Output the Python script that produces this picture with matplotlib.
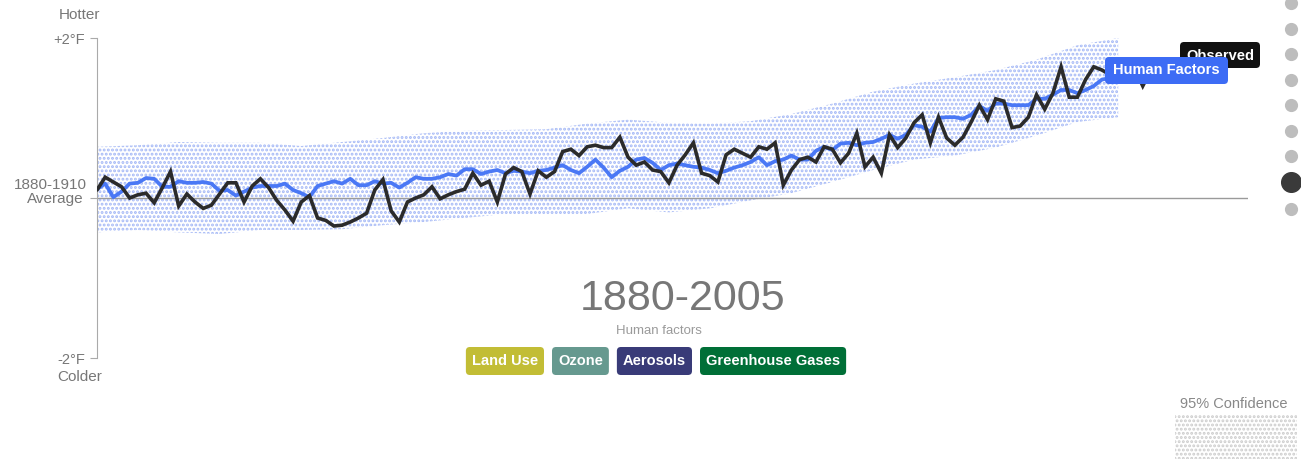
import numpy as np
import matplotlib.pyplot as plt
from matplotlib.patches import FancyBboxPatch, Rectangle

plt.rcParams['font.family'] = ['Liberation Sans', 'DejaVu Sans']
plt.rcParams['hatch.linewidth'] = 1.4

# Observed temperature vs 1880-1910 average (deg F)
years_obs = np.arange(1880, 2015)
observed = [
    0.10, 0.26, 0.20, 0.14, 0.00, 0.04, 0.06, -0.06, 0.13, 0.33,
    -0.10, 0.05, -0.05, -0.13, -0.09, 0.05, 0.19, 0.19, -0.05, 0.15,
    0.24, 0.13, -0.03, -0.15, -0.29, -0.05, 0.03, -0.25, -0.28, -0.35,
    -0.34, -0.30, -0.25, -0.19, 0.10, 0.23, -0.16, -0.30, -0.05, 0.00,
    0.04, 0.14, -0.01, 0.04, 0.08, 0.11, 0.31, 0.16, 0.21, -0.05,
    0.30, 0.38, 0.33, 0.05, 0.34, 0.26, 0.33, 0.58, 0.61, 0.53,
    0.64, 0.66, 0.63, 0.63, 0.76, 0.51, 0.41, 0.45, 0.35, 0.33,
    0.19, 0.41, 0.54, 0.69, 0.31, 0.28, 0.20, 0.54, 0.61, 0.56,
    0.51, 0.64, 0.61, 0.69, 0.16, 0.35, 0.48, 0.51, 0.45, 0.64,
    0.61, 0.44, 0.56, 0.81, 0.39, 0.51, 0.31, 0.79, 0.63, 0.75,
    0.94, 1.04, 0.69, 1.01, 0.75, 0.66, 0.76, 0.95, 1.16, 0.98,
    1.24, 1.21, 0.88, 0.90, 1.01, 1.29, 1.11, 1.31, 1.64, 1.26,
    1.26, 1.48, 1.64, 1.60, 1.54, 1.66, 1.58, 1.62, 1.40, 1.60,
    1.67, 1.56, 1.60, 1.64, 1.76,
]

# Modelled response to human factors
years_hf = np.arange(1880, 2006)
human = [
    0.11, 0.18, 0.01, 0.08, 0.18, 0.19, 0.25, 0.24, 0.14, 0.14,
    0.21, 0.19, 0.19, 0.20, 0.18, 0.09, 0.10, 0.03, 0.08, 0.13,
    0.15, 0.15, 0.15, 0.18, 0.10, 0.06, 0.01, 0.15, 0.18, 0.21,
    0.18, 0.24, 0.16, 0.16, 0.21, 0.18, 0.19, 0.13, 0.19, 0.26,
    0.24, 0.24, 0.26, 0.30, 0.28, 0.36, 0.36, 0.30, 0.33, 0.35,
    0.31, 0.34, 0.33, 0.31, 0.34, 0.35, 0.38, 0.41, 0.35, 0.31,
    0.39, 0.48, 0.38, 0.26, 0.34, 0.39, 0.48, 0.50, 0.44, 0.35,
    0.41, 0.43, 0.41, 0.39, 0.38, 0.35, 0.31, 0.34, 0.38, 0.41,
    0.45, 0.51, 0.41, 0.46, 0.48, 0.53, 0.48, 0.48, 0.59, 0.64,
    0.60, 0.68, 0.69, 0.66, 0.69, 0.70, 0.74, 0.79, 0.74, 0.79,
    0.91, 0.89, 0.83, 1.00, 1.01, 1.01, 0.99, 1.04, 1.15, 1.09,
    1.18, 1.18, 1.16, 1.16, 1.16, 1.24, 1.24, 1.29, 1.35, 1.35,
    1.31, 1.35, 1.40, 1.48, 1.50, 1.51,
]

# 95% confidence band of the human factors model
band_years = np.arange(1880, 2006, 5)
band_upper = [0.64, 0.66, 0.70, 0.69, 0.69, 0.65, 0.70, 0.75, 0.81, 0.84,
              0.85, 0.86, 0.93, 0.98, 0.94, 0.93, 0.96, 1.05, 1.18, 1.33,
              1.43, 1.51, 1.60, 1.73, 1.91, 2.00]
band_lower = [-0.43, -0.40, -0.43, -0.45, -0.40, -0.40, -0.39, -0.34, -0.30, -0.25,
              -0.20, -0.21, -0.20, -0.13, -0.18, -0.13, -0.03, 0.06, 0.20, 0.35,
              0.48, 0.53, 0.63, 0.78, 0.95, 1.01]

buttons = ['Land Use', 'Ozone', 'Aerosols', 'Greenhouse Gases']
button_colors = ['#c2bd35', '#66998f', '#393b78', '#006f37']
nav_steps = 9
nav_active = 7

W, H = 1301, 459
fig = plt.figure(figsize=(W / 100, H / 100), dpi=100)

# main chart, 1880 at x=97px, ~8.17 px per year
ax = fig.add_axes([97 / W, (H - 358) / H, (1248 - 97) / W, 320 / H])
ax.set_xlim(1880, 1880 + (1248 - 97) / 8.17)
ax.set_ylim(-2, 2)

ax.fill_between(band_years, band_lower, band_upper, facecolor='none',
                edgecolor='#a4b8f6', hatch='....', linewidth=0, zorder=1)
ax.axhline(0, color='#9a9a9a', lw=1, zorder=2)
ax.plot(years_hf, human, color='#4a78f5', lw=2.7, zorder=3,
        solid_joinstyle='round', solid_capstyle='round')
ax.plot(years_obs, observed, color='#2b2b2b', lw=2.6, zorder=4,
        solid_joinstyle='miter', solid_capstyle='round')

for s in ['top', 'right', 'bottom']:
    ax.spines[s].set_visible(False)
ax.spines['left'].set_color('#aaaaaa')
ax.set_xticks([])
ax.set_yticks([-2, 0, 2])
ax.set_yticklabels(['-2°F', '', '+2°F'])
ax.tick_params(axis='y', length=5, color='#aaaaaa', labelcolor='#777777',
               labelsize=10.5, pad=3.5)
ax.patch.set_alpha(0)

# overlay in pixel coordinates for labels and controls
ov = fig.add_axes([0, 0, 1, 1], zorder=5)
ov.set_xlim(0, W)
ov.set_ylim(H, 0)
ov.axis('off')
ov.patch.set_alpha(0)

ov.text(79, 15, 'Hotter', ha='center', va='center', fontsize=11, color='#777777')
ov.text(80, 377, 'Colder', ha='center', va='center', fontsize=11, color='#777777')
ov.text(87, 185, '1880-1910', ha='right', va='center', fontsize=11, color='#777777')
ov.text(84, 199, 'Average', ha='right', va='center', fontsize=11, color='#777777')

# end labels
ov.add_patch(FancyBboxPatch((1180, 42), 80, 26, boxstyle='round,pad=0,rounding_size=4',
                            fc='#111111', ec='none', zorder=1))
ov.text(1220, 55.5, 'Observed', ha='center', va='center', fontsize=10.5,
        color='white', fontweight='bold', zorder=2)
ov.add_patch(FancyBboxPatch((1105, 57), 123, 27, boxstyle='round,pad=0,rounding_size=4',
                            fc='#3d6cf5', ec='none', zorder=3))
ov.text(1166.5, 70.5, 'Human Factors', ha='center', va='center', fontsize=10.5,
        color='white', fontweight='bold', zorder=4)

# period title
ov.text(683, 299, '1880-2005', ha='center', va='center', fontsize=31, color='#777777')
ov.text(659, 331, 'Human factors', ha='center', va='center', fontsize=9.5, color='#9a9a9a')

# factor buttons
renderer = fig.canvas.get_renderer()
texts = []
widths = []
for name in buttons:
    t = ov.text(0, 361, name, ha='center', va='center', fontsize=10.5,
                color='white', fontweight='bold', zorder=4)
    texts.append(t)
    widths.append(t.get_window_extent(renderer).width + 12)
gap = 8
x0 = 656 - (sum(widths) + gap * (len(widths) - 1)) / 2
for t, w, c in zip(texts, widths, button_colors):
    ov.add_patch(FancyBboxPatch((x0, 347), w, 28, boxstyle='round,pad=0,rounding_size=4',
                                fc=c, ec='none', zorder=3))
    t.set_x(x0 + w / 2)
    x0 += w + gap

# step navigation dots
nav_y = 3 + 25.5 * np.arange(nav_steps) + np.where(np.arange(nav_steps) > nav_active, 1.5, 0)
for i, yy in enumerate(nav_y):
    if i == nav_active:
        ov.scatter(1291, yy, s=200, color='#3a3a3a', zorder=3, clip_on=False)
    else:
        ov.scatter(1291, yy, s=72, color='#bdbdbd', zorder=3, clip_on=False)

# confidence legend
ov.text(1234, 404, '95% Confidence', ha='center', va='center', fontsize=10.5, color='#888888')
ov.add_patch(Rectangle((1175, 415), 122, 44, facecolor='none', edgecolor='#cccccc',
                       hatch='....', linewidth=0))

fig.savefig('out.png', dpi=100)
